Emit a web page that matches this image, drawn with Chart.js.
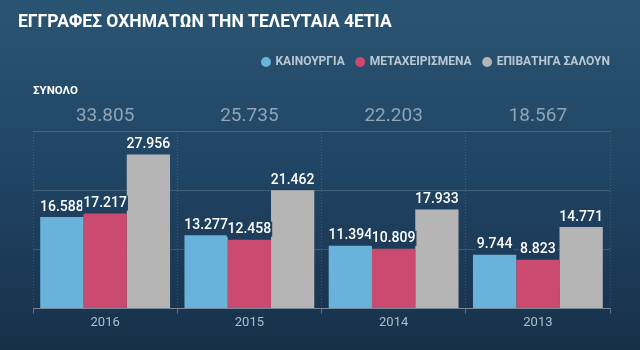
<!DOCTYPE html>
<html lang="el">
<head>
<meta charset="utf-8">
<script src="https://cdn.jsdelivr.net/npm/chart.js@4/dist/chart.umd.min.js"></script>
<style>
  html, body { margin: 0; padding: 0; background: #1f4262; }
  #wrap { width: 640px; height: 350px; }
</style>
</head>
<body>
<div id="wrap"><canvas id="myChart" width="640" height="350"></canvas></div>
<script>
const years = ["2016", "2015", "2014", "2013"];
const newCars = [16588, 13277, 11394, 9744];
const usedCars = [17217, 12458, 10809, 8823];
const saloons = [27956, 21462, 17933, 14771];
const seriesNames = ["ΚΑΙΝΟΥΡΓΙΑ", "ΜΕΤΑΧΕΙΡΙΣΜΕΝΑ", "ΕΠΙΒΑΤΗΓΑ ΣΑΛΟΥΝ"];

// total = new + used registrations
const totals = years.map((y, i) => newCars[i] + usedCars[i]);

const fmt = (v) => String(v).replace(/\B(?=(\d{3})+(?!\d))/g, ".");

let bgGradient = null;

const background = {
  id: "background",
  beforeDraw: (chart) => {
    const ctx = chart.ctx;
    bgGradient = ctx.createLinearGradient(0, 0, 0, chart.height);
    bgGradient.addColorStop(0, "#2a5572");
    bgGradient.addColorStop(0.5, "#204463");
    bgGradient.addColorStop(1, "#17304a");
    ctx.save();
    ctx.fillStyle = bgGradient;
    ctx.fillRect(0, 0, chart.width, chart.height);
    ctx.restore();
  },
};

// push the legend flush with the right edge of the plot
const legendShift = {
  id: "legendShift",
  afterLayout: (chart) => {
    chart.legend.left += 12;
    chart.legend.right += 12;
  },
};

const barValues = {
  id: "barValues",
  afterDatasetsDraw: (chart) => {
    const ctx = chart.ctx;
    ctx.save();
    ctx.font = "500 14px Roboto";
    ctx.textAlign = "center";
    ctx.textBaseline = "middle";
    chart.data.datasets.forEach((ds, d) => {
      const meta = chart.getDatasetMeta(d);
      meta.data.forEach((bar, i) => {
        const text = fmt(ds.data[i]);
        const w = ctx.measureText(text).width;
        const y = bar.y - 10;
        ctx.fillStyle = bgGradient;
        ctx.fillRect(bar.x - w / 2 - 1, y - 8, w + 2, 15);
        ctx.fillStyle = "#ffffff";
        ctx.fillText(text, bar.x, y);
      });
    });
    ctx.restore();
  },
};

Chart.defaults.font.family = "Roboto, 'Open Sans', sans-serif";

const data = {
  labels: years,
  datasets: [
    { label: seriesNames[0], data: newCars, backgroundColor: "#68b2dc" },
    { label: seriesNames[1], data: usedCars, backgroundColor: "#cb4a6f" },
    { label: seriesNames[2], data: saloons, backgroundColor: "#b5b5b5" },
  ],
};

const config = {
  type: "bar",
  data: data,
  options: {
    responsive: false,
    animation: false,
    events: [],
    categoryPercentage: 0.9,
    barPercentage: 1,
    layout: { padding: { left: 18, right: 30, top: 0, bottom: 17 } },
    plugins: {
      tooltip: { enabled: false },
      title: {
        display: true,
        text: "ΕΓΓΡΑΦΕΣ ΟΧΗΜΑΤΩΝ ΤΗΝ ΤΕΛΕΥΤΑΙΑ 4ΕΤΙΑ",
        align: "start",
        color: "#ffffff",
        font: { size: 17.5, weight: "bold" },
        padding: { top: 12, bottom: 11 },
      },
      legend: {
        position: "top",
        align: "end",
        labels: {
          usePointStyle: true,
          pointStyle: "circle",
          boxWidth: 7,
          boxHeight: 7,
          color: "#bac8d4",
          font: { size: 12, weight: "bold" },
          padding: 12,
        },
      },
    },
    scales: {
      x: {
        position: "bottom",
        grid: {
          color: "rgba(255,255,255,0.14)",
          offset: true,
          tickLength: 5,
          tickColor: "rgba(255,255,255,0.3)",
        },
        border: { color: "rgba(255,255,255,0.3)", dash: [1, 2] },
        ticks: { color: "#b0bfcc", font: { size: 13 }, padding: 2 },
      },
      x2: {
        type: "category",
        position: "top",
        offset: true,
        labels: totals.map(fmt),
        grid: { display: false, drawTicks: false },
        border: { display: false },
        ticks: { color: "#8fa4b6", font: { size: 19 }, padding: 3 },
        title: {
          display: true,
          text: "ΣΥΝΟΛΟ",
          align: "start",
          color: "#ffffff",
          font: { size: 11.5, weight: "bold" },
          padding: { top: 6, bottom: 0 },
        },
        afterFit: (scale) => {
          scale.height = 53;
        },
      },
      y: {
        min: 0,
        max: 32200,
        ticks: { display: false, count: 4 },
        grid: { color: "rgba(255,255,255,0.15)", drawTicks: false },
        border: { display: false },
        afterFit: (scale) => {
          scale.width = 15;
        },
      },
    },
  },
  plugins: [background, legendShift, barValues],
};

const myChart = new Chart(document.getElementById("myChart"), config);
</script>
</body>
</html>
